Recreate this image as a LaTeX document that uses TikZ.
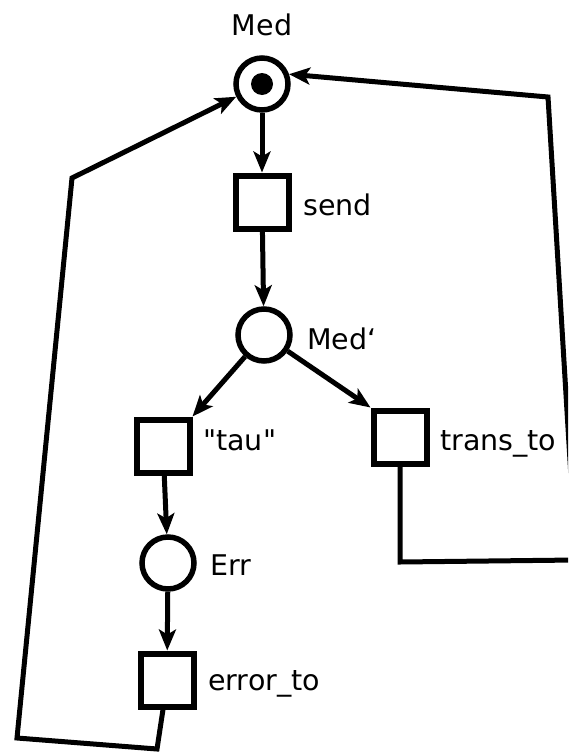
\documentclass[tikz,border=0pt]{standalone}
\usepackage{fontspec}
\newfontfamily\labelfont{DejaVu Sans}
\usetikzlibrary{arrows.meta}
\begin{document}
\begin{tikzpicture}[x=1pt,y=-1pt,
 place/.style={circle,draw,line width=5.5pt,minimum size=52pt,inner sep=0pt},
 trans/.style={rectangle,draw,line width=6pt,minimum size=53pt,inner sep=0pt},
 lbl/.style={font=\labelfont\fontsize{28.5}{31}\selectfont,inner sep=0pt,anchor=base west},
 arc/.style={line width=5pt,-{Stealth[length=21pt,width=17pt,inset=5pt]}}]
\useasboundingbox (0,0) rectangle (568,755);
\clip (0,0) rectangle (568,755);
\node[place] (med) at (262,84) {};
\fill (med.center) circle (11pt);
\node[trans] (send) at (262,202) {};
\node[place] (med2) at (264,335) {};
\node[trans] (tau) at (163,446) {};
\node[trans] (trans) at (400,437) {};
\node[place] (err) at (168,563) {};
\node[trans] (errto) at (167,680) {};
% labels
\node[lbl,anchor=base] (lmed) at (262,35) {Med};
\node[lbl] (lsend) at (303,215) {send};
\node[lbl] (lmed2) at (307,349) {Med‘};
\node[lbl] (ltau) at (203,450) {"tau"};
\node[lbl] (ltrans) at (440,450) {trans\_to};
\node[lbl] (lerr) at (210,575) {Err};
\node[lbl] (lerrto) at (208,690) {error\_to};
% connectors
\draw[arc] (med) -- (send);
\draw[arc] (send) -- (med2);
\draw[arc] (med2) -- (tau.north east);
\draw[arc] (med2) -- (trans.north west);
\draw[arc] (tau) -- (err);
\draw[arc] (err) -- (errto);
\coordinate (c1) at (157,749);
\coordinate (c2) at (17,738);
\coordinate (c3) at (72,178);
\draw[arc] ([xshift=-4pt]errto.south) -- (c1) -- (c2) -- (c3) -- (med);
\coordinate (d1) at (400,562);
\coordinate (d2) at (576,560);
\coordinate (d3) at (548,97);
\draw[arc] (trans.south) -- (d1) -- (d2) -- (d3) -- (med.20);
\end{tikzpicture}
\end{document}
